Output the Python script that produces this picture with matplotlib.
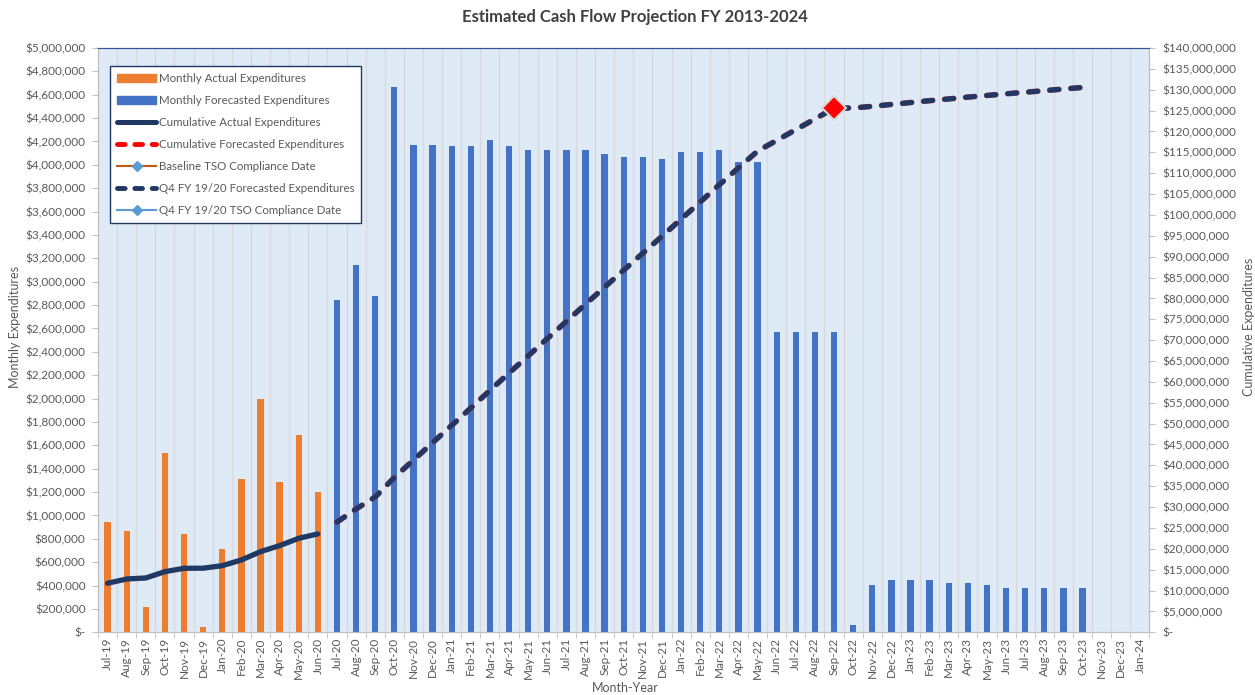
import numpy as np
import matplotlib.pyplot as plt
from matplotlib.lines import Line2D
from matplotlib.patches import Patch
from matplotlib.ticker import FuncFormatter, MultipleLocator

plt.rcParams['font.family'] = ['Lato', 'DejaVu Sans']
plt.rcParams['lines.scale_dashes'] = False

months = ['Jul-19', 'Aug-19', 'Sep-19', 'Oct-19', 'Nov-19', 'Dec-19',
          'Jan-20', 'Feb-20', 'Mar-20', 'Apr-20', 'May-20', 'Jun-20',
          'Jul-20', 'Aug-20', 'Sep-20', 'Oct-20', 'Nov-20', 'Dec-20',
          'Jan-21', 'Feb-21', 'Mar-21', 'Apr-21', 'May-21', 'Jun-21',
          'Jul-21', 'Aug-21', 'Sep-21', 'Oct-21', 'Nov-21', 'Dec-21',
          'Jan-22', 'Feb-22', 'Mar-22', 'Apr-22', 'May-22', 'Jun-22',
          'Jul-22', 'Aug-22', 'Sep-22', 'Oct-22', 'Nov-22', 'Dec-22',
          'Jan-23', 'Feb-23', 'Mar-23', 'Apr-23', 'May-23', 'Jun-23',
          'Jul-23', 'Aug-23', 'Sep-23', 'Oct-23', 'Nov-23', 'Dec-23',
          'Jan-24']

# Jul-19 .. Jun-20
actual_monthly = [945000, 865000, 215000, 1530000, 845000, 43000,
                  712000, 1313000, 1995000, 1290000, 1685000, 1202000]
actual_cumulative = [11750000, 12780000, 13020000, 14530000, 15340000, 15360000,
                     15970000, 17330000, 19330000, 20770000, 22530000, 23570000]

# Jul-20 .. Oct-23
forecast_monthly = [2840000, 3141000, 2875000, 4664000, 4166000, 4166000,
                    4160000, 4160000, 4209000, 4160000, 4125000, 4127000,
                    4125000, 4125000, 4091000, 4063000, 4063000, 4046000,
                    4111000, 4111000, 4129000, 4028000, 4026000, 2569000,
                    2569000, 2569000, 2569000, 60000, 403000, 449000,
                    449000, 449000, 423000, 423000, 406000, 383000,
                    383000, 383000, 383000, 383000]
forecast_cumulative = [26410000, 29550000, 32430000, 37090000, 41260000, 45420000,
                       49580000, 53740000, 57950000, 62110000, 66240000, 70360000,
                       74490000, 78610000, 82700000, 86770000, 90830000, 94880000,
                       98990000, 103100000, 107230000, 111260000, 115280000, 117850000,
                       120420000, 122990000, 125560000, 125620000, 126020000, 126470000,
                       126920000, 127370000, 127790000, 128220000, 128620000, 129010000,
                       129390000, 129770000, 130160000, 130540000]

compliance_month = 'Sep-22'
compliance_value = 125560000

x = np.arange(len(months))
x_actual = x[:len(actual_monthly)]
x_forecast = x[len(actual_monthly):len(actual_monthly) + len(forecast_monthly)]

dash = (6.6, 8.6)

fig = plt.figure(figsize=(12.55, 6.95), dpi=100)
ax = fig.add_axes([0.0781, 0.0902, 0.9159 - 0.0781, 0.931 - 0.0902])
ax2 = ax.twinx()

ax.set_facecolor('#DEEAF6')
ax.bar(x_actual, actual_monthly, width=0.33, color='#ED7D31', zorder=3)
ax.bar(x_forecast, forecast_monthly, width=0.33, color='#4472C4', zorder=3)
for b in np.arange(len(months)) + 0.5:
    ax.axvline(b, color='#D9D9D9', lw=1, zorder=1)

ax2.plot(x_actual, actual_cumulative, color='#1F3864', lw=3.8,
         solid_capstyle='round', zorder=4)
ax2.plot(x_forecast, forecast_cumulative, color='#A0304A', lw=4.0,
         dashes=dash, dash_capstyle='round', zorder=4)
ax2.plot(x_forecast, forecast_cumulative, color='#1F3864', lw=3.5,
         dashes=dash, dash_capstyle='round', zorder=5)
ax2.plot(months.index(compliance_month), compliance_value, marker='D',
         ms=12, color='#FF0000', mec='#D9D9D9', mew=1.5, zorder=6, ls='none')

ax.set_xlim(-0.5, len(months) - 0.5)
ax.set_ylim(0, 5000000)
ax2.set_ylim(0, 140000000)
ax.yaxis.set_major_locator(MultipleLocator(200000))
ax2.yaxis.set_major_locator(MultipleLocator(5000000))
fmt = FuncFormatter(lambda v, p: '$-' if v == 0 else f'${v:,.0f}')
ax.yaxis.set_major_formatter(fmt)
ax2.yaxis.set_major_formatter(fmt)

ax.set_xticks(x)
ax.set_xticklabels(months, rotation=90, fontsize=8.5, color='#595959')
ax.set_xticks(np.arange(len(months) + 1) - 0.5, minor=True)
ax.tick_params(axis='x', which='major', length=0, pad=4)
ax.tick_params(axis='x', which='minor', length=4, color='#BFBFBF')
ax.tick_params(axis='y', labelsize=8.5, labelcolor='#595959', length=4,
               color='#BFBFBF', pad=5)
ax2.tick_params(axis='y', labelsize=8.5, labelcolor='#595959', length=4,
                color='#BFBFBF', pad=5)

for a in (ax, ax2):
    for s in ('left', 'right', 'bottom'):
        a.spines[s].set_color('#BFBFBF')
    a.spines['top'].set_color('#2F5597')

fig.text(0.506, 0.975, 'Estimated Cash Flow Projection FY 2013-2024',
         ha='center', va='center', fontsize=12, fontweight='bold', color='#404040')
fig.text(0.012, 0.53, 'Monthly Expenditures', rotation=90, ha='center',
         va='center', fontsize=9, color='#595959')
fig.text(0.995, 0.53, 'Cumulative Expenditures', rotation=90, ha='center',
         va='center', fontsize=9, color='#595959')
fig.text(0.498, 0.01, 'Month-Year', ha='center', va='center',
         fontsize=9, color='#595959')

handles = [
    Patch(color='#ED7D31'),
    Patch(color='#4472C4'),
    Line2D([], [], color='#1F3864', lw=3.6, solid_capstyle='round'),
    Line2D([], [], color='#FF0000', lw=3.5, dashes=(5.5, 7.0), dash_capstyle='round'),
    Line2D([], [], color='#C55A11', lw=1.5, marker='D', ms=5, mfc='#5B9BD5', mec='#5B9BD5'),
    Line2D([], [], color='#1F3864', lw=3.5, dashes=(5.5, 7.0), dash_capstyle='round'),
    Line2D([], [], color='#5B9BD5', lw=1.5, marker='D', ms=5, mfc='#5B9BD5', mec='#5B9BD5'),
]
labels = ['Monthly Actual Expenditures', 'Monthly Forecasted Expenditures',
          'Cumulative Actual Expenditures', 'Cumulative Forecasted Expenditures',
          'Baseline TSO Compliance Date', 'Q4 FY 19/20 Forecasted Expenditures',
          'Q4 FY 19/20 TSO Compliance Date']
leg = ax2.legend(handles, labels, loc='upper left', bbox_to_anchor=(0.006, 0.979),
                 fontsize=8.3, frameon=True, fancybox=False, handlelength=3.4,
                 handleheight=0.7, labelspacing=0.95, borderpad=0.6,
                 handletextpad=0.2, labelcolor='#595959')
leg.get_frame().set_edgecolor('#1F3864')
leg.get_frame().set_linewidth(1)
leg.get_frame().set_facecolor('white')
leg.get_frame().set_alpha(1)
leg.set_zorder(10)

fig.savefig('out.png', dpi=100)
